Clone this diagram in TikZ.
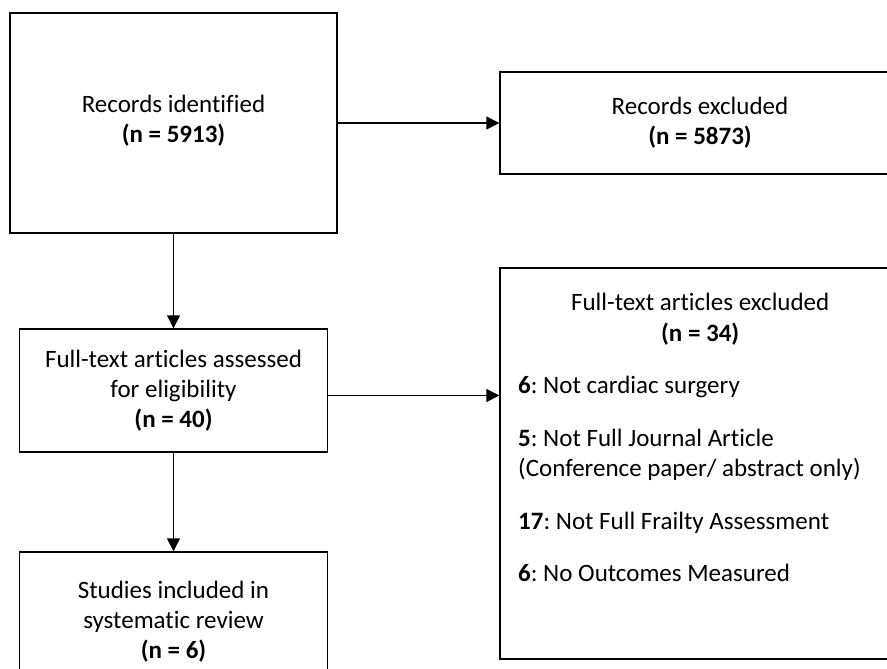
\documentclass[tikz,border=0pt]{standalone}
\usepackage{fontspec}
\setmainfont{Carlito}[Ligatures=NoCommon]
\usetikzlibrary{arrows.meta}

\begin{document}
\begin{tikzpicture}[x=1pt, y=-1pt,
  box/.style = {draw, line width=1.4pt, align=center,
                font=\fontsize{25}{30}\selectfont},
  arr/.style = {line width=1.4pt, -{Triangle[length=13pt, width=13pt]}}]
  \useasboundingbox (0,0) rectangle (887,669);
  \clip (0,0) rectangle (887,669);
  % left column
  \node[box, minimum width=327pt, minimum height=220pt] (ident) at (173.5,123)
    {Records identified\\ \textbf{(n = 5913)}\\[-22pt]};
  \node[box, minimum width=308pt, minimum height=123pt] (assess) at (173.5,390.5)
    {Full-text articles assessed\\ for eligibility\\ \textbf{(n = 40)}};
  \node[box, minimum width=308pt, minimum height=140pt] (incl) at (173.5,622)
    {Studies included in\\ systematic review\\ \textbf{(n = 6)}};
  % right column
  \node[box, minimum width=400pt, minimum height=102pt] (excl) at (700,123)
    {Records excluded\\ \textbf{(n = 5873)}};
  \node[box, minimum width=400pt, minimum height=391pt] (exft) at (700,463.5) {};
  \node[anchor=north west, align=left, text width=364pt, inner sep=0pt,
        font=\fontsize{25}{30.5}\selectfont] (exfttext) at (518,293)
    {\spaceskip=0pt \xspaceskip=0pt \frenchspacing
     {\centering Full-text articles excluded\\ \textbf{(n = 34)}\par}
     \raggedright
     \vspace{22pt}
     \textbf{6}: Not cardiac surgery\par
     \vspace{22pt}
     \textbf{5}: Not Full Journal Article\\ (Conference paper/ abstract only)\par
     \vspace{22pt}
     \textbf{17}: Not Full Frailty Assessment\par
     \vspace{22pt}
     \textbf{6}: No Outcomes Measured};
  % connectors
  \draw[arr] (ident.east |- excl) -- (excl);
  \draw[arr] (ident) -- (assess);
  \draw[arr] ([yshift=-5pt]assess.east) -- ([yshift=-5pt]assess.east -| exft.west);
  \draw[arr] (assess) -- (incl);
\end{tikzpicture}
\end{document}
